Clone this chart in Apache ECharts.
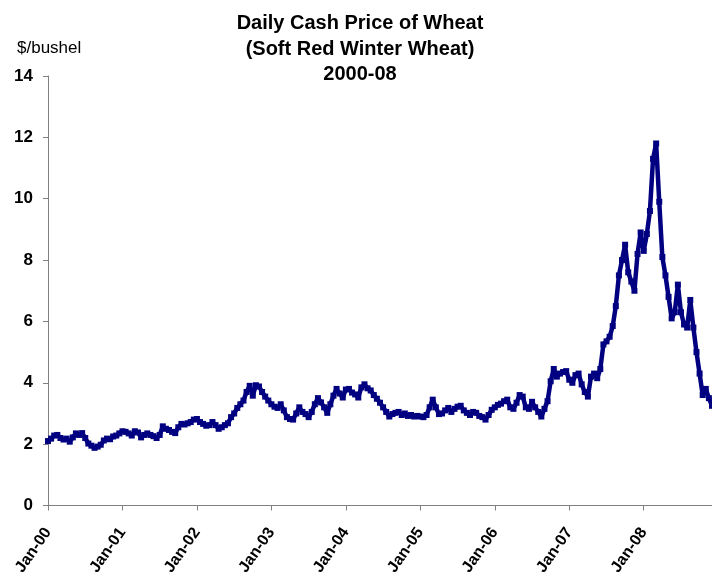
<!DOCTYPE html>
<html>
<head>
<meta charset="utf-8">
<script src="https://cdn.jsdelivr.net/npm/echarts@6/dist/echarts.min.js"></script>
<style>
html,body{margin:0;padding:0;background:#fff;}
#chart{width:712px;height:584px;}
</style>
</head>
<body>
<div id="chart"></div>
<script>
// Semi-monthly readings of the daily cash price ($/bushel), first and 16th of each month
var startYear = 2000;
var price2000 = [2.10,2.18,2.28,2.30,2.20,2.15,2.18,2.08,2.22,2.35,2.30,2.36,2.20,2.02,1.95,1.88,1.92,1.98,2.12,2.18,2.16,2.25,2.28,2.35];
var price2001 = [2.42,2.40,2.35,2.28,2.42,2.38,2.22,2.30,2.35,2.30,2.26,2.20,2.30,2.58,2.50,2.46,2.40,2.36,2.55,2.66,2.64,2.68,2.72,2.80];
var price2002 = [2.82,2.72,2.66,2.60,2.62,2.72,2.62,2.50,2.55,2.62,2.68,2.88,3.00,3.18,3.30,3.42,3.70,3.90,3.58,3.92,3.88,3.70,3.55,3.42];
var price2003 = [3.30,3.22,3.18,3.30,3.10,2.88,2.82,2.80,3.00,3.20,3.05,2.98,2.88,3.05,3.30,3.50,3.36,3.20,3.02,3.30,3.58,3.80,3.65,3.52];
var price2004 = [3.78,3.80,3.68,3.62,3.52,3.85,3.95,3.82,3.75,3.60,3.48,3.35,3.20,3.05,2.90,2.98,3.02,3.05,2.95,3.00,2.92,2.95,2.90,2.92];
var price2005 = [2.90,2.88,2.95,3.20,3.45,3.20,2.98,3.00,3.10,3.18,3.05,3.15,3.22,3.25,3.10,3.02,2.95,3.05,3.02,2.92,2.88,2.80,2.95,3.12];
var price2006 = [3.20,3.28,3.32,3.40,3.45,3.20,3.15,3.35,3.60,3.55,3.20,3.15,3.38,3.20,3.05,2.90,3.15,3.40,4.05,4.45,4.20,4.30,4.35,4.38];
var price2007 = [4.10,4.00,4.25,4.30,3.95,3.70,3.55,4.20,4.30,4.15,4.45,5.25,5.35,5.50,5.85,6.50,7.50,8.00,8.50,7.60,7.30,7.00,8.20,8.90];
var price2008 = [8.30,8.85,9.60,11.30,11.80,9.90,8.10,7.50,6.80,6.10,6.30,7.20,6.30,5.90,5.80,6.70,5.80,5.00,4.30,3.60,3.80,3.50,3.25];
var yearLabels = ['Jan-00','Jan-01','Jan-02','Jan-03','Jan-04','Jan-05','Jan-06','Jan-07','Jan-08'];
var titleText = 'Daily Cash Price of Wheat\n(Soft Red Winter Wheat)\n2000-08';
var unitText = '$/bushel';

var years = [price2000,price2001,price2002,price2003,price2004,price2005,price2006,price2007,price2008];
var data = [];
years.forEach(function(arr, yi){
  arr.forEach(function(v, i){
    // x in months since Jan 2000
    data.push([yi*12 + i*0.5, v]);
  });
});
var tickVals = yearLabels.map(function(_, i){ return i*12; });

var chart = echarts.init(document.getElementById('chart'), null, {renderer:'canvas'});
var font = '"Liberation Sans", Arial, sans-serif';
chart.setOption({
  animation:false,
  backgroundColor:'#ffffff',
  title:[{
    text:titleText,
    left:355,
    top:6,
    textAlign:'center',
    textStyle:{fontFamily:font,fontSize:20,fontWeight:'bold',color:'#000',lineHeight:25.5}
  },{
    text:unitText,
    left:12,
    top:35,
    textStyle:{fontFamily:font,fontSize:17,fontWeight:'normal',color:'#000'}
  }],
  grid:{left:48,right:0,top:76,bottom:78.5,containLabel:false,outerBoundsMode:'none'},
  xAxis:{
    type:'value',min:0,max:107,interval:12,
    splitLine:{show:false},
    axisLine:{lineStyle:{color:'#808080',width:1}},
    axisTick:{show:true,length:5,lineStyle:{color:'#808080'},customValues:tickVals},
    axisLabel:{
      customValues:tickVals,
      rotate:55,margin:24,
      fontFamily:font,fontSize:16,fontWeight:'bold',color:'#000',
      formatter:function(v){ return yearLabels[Math.round(v/12)] || ''; }
    }
  },
  yAxis:{
    type:'value',min:0,max:14,interval:2,
    splitLine:{show:false},
    axisLine:{show:true,lineStyle:{color:'#808080',width:1}},
    axisTick:{show:true,length:5,lineStyle:{color:'#808080'}},
    axisLabel:{margin:15,fontFamily:font,fontSize:17,fontWeight:'bold',color:'#000'}
  },
  series:[{
    type:'line',
    data:data,
    showSymbol:true,
    showAllSymbol:true,
    symbol:'rect',
    symbolSize:6,
    itemStyle:{color:'#000080'},
    lineStyle:{color:'#000080',width:4.5},
    clip:false
  }]
});
</script>
</body>
</html>
